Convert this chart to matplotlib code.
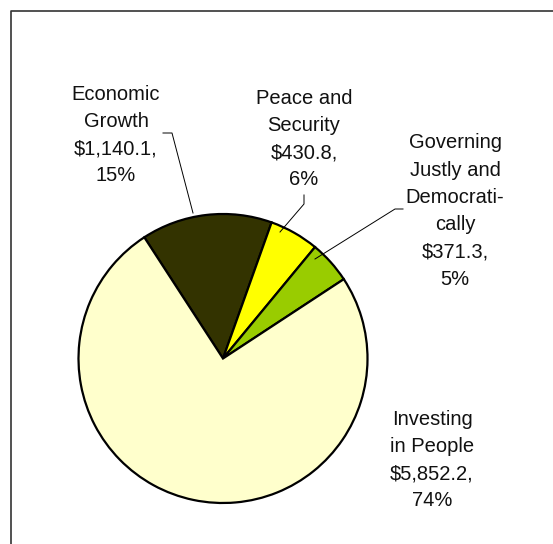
import matplotlib
matplotlib.use('Agg')
import matplotlib.pyplot as plt

# datos del grafico
categorias = ['Economic\nGrowth', 'Peace and\nSecurity', 'Governing\nJustly and\nDemocrati-\ncally', 'Investing\nin People']
valores = [1140.1, 430.8, 371.3, 5852.2]
porcentajes = ['15%', '6%', '5%', '74%']
colores = ['#333300', '#FFFF00', '#99CC00', '#FFFFCC']

W, H = 553, 544
plt.rcParams['font.family'] = ['Liberation Sans', 'DejaVu Sans']

fig = plt.figure(figsize=(W / 100, H / 100), dpi=100)
ax = fig.add_axes([0, 0, 1, 1])

def py(y):
    # coordenada en pixeles (desde arriba) a datos
    return H - y

ax.pie(valores, colors=colores, startangle=123, counterclock=False,
       center=(223, py(358.5)), radius=144.5, frame=True,
       wedgeprops=dict(edgecolor='black', linewidth=1.6))
ax.set_xlim(0, W)
ax.set_ylim(0, H)
ax.set_aspect('equal')
ax.axis('off')

# posiciones de las etiquetas (centro del texto)
pos_etiquetas = [(116, 135), (304, 139), (455, 211), (432, 460)]
lineas = [
    [(163, 133), (172, 133), (193, 213)],
    [(304, 195), (304, 204), (280, 232)],
    [(403, 209), (395, 209), (315, 259)],
    None,
]

for cat, val, pct, (x, y), ln in zip(categorias, valores, porcentajes, pos_etiquetas, lineas):
    texto = f'{cat}\n${val:,.1f},\n{pct}'
    ax.text(x, py(y), texto, ha='center', va='center', fontsize=14.5,
            linespacing=1.55, color='#111111')
    if ln:
        ax.plot([p[0] for p in ln], [py(p[1]) for p in ln], color='black', lw=0.7)

# borde del area del grafico
ax.plot([10.5, 10.5, W + 5], [py(H + 5), py(11), py(11)], color='#333333', lw=1.2, clip_on=False)

fig.savefig('out.png', dpi=100, facecolor='white')
